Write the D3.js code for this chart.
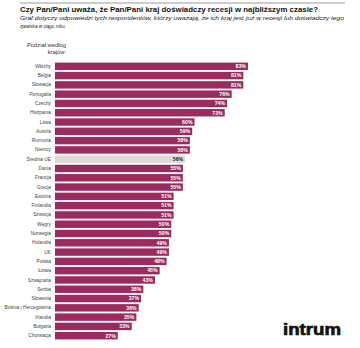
<!DOCTYPE html>
<html><head><meta charset="utf-8">
<script src="https://cdn.jsdelivr.net/npm/d3@7"></script>
<style>
html,body{margin:0;padding:0;background:#fff;}
svg{display:block;}
text{font-family:"Liberation Sans",Arial,sans-serif;}
</style></head>
<body>
<svg id="chart" width="360" height="348"></svg>
<script>
const countries = ["Włochy","Belgia","Słowacja","Portugalia","Czechy","Hiszpania","Litwa","Austria","Rumunia","Niemcy","Średnia UE","Dania","Francja","Grecja","Estonia","Finlandia","Szwecja","Węgry","Norwegia","Holandia","UK","Polska","Łotwa","Szwajcaria","Serbia","Słowenia","Bośnia i Hercegowina","Irlandia","Bułgaria","Chorwacja"];
const values = [83,81,81,76,74,73,60,59,58,58,56,55,55,55,51,51,51,50,50,49,49,48,45,43,38,37,36,35,33,27];
const highlight = ["Średnia UE"];
const titleText = "Czy Pan/Pani uważa, że Pan/Pani kraj doświadczy recesji w najbliższym czasie?";
const subtitleLines = ["Graf dotyczy odpowiedzi tych respondentów, którzy uważają, że ich kraj jest już w recesji lub doświadczy tego","zjawiska w ciągu roku."];
const axisTitle = ["Podział według","krajów:"];

const svg = d3.select("#chart");
const data = countries.map((c,i)=>({c, v:values[i]}));

const x = d3.scaleLinear().domain([0,100]).range([55, 55+232.5]);
const y = d3.scaleBand().domain(countries).range([61.65, 340.35]).paddingInner(0.2).paddingOuter(0.1);

// top rule
svg.append("line").attr("x1",20).attr("x2",345).attr("y1",3).attr("y2",3)
  .attr("stroke","#9a9a9a").attr("stroke-width",1);

svg.append("text").attr("x",20).attr("y",11.5).text(titleText)
  .attr("font-size",7.8).attr("font-weight","bold").attr("fill","#111")
  .attr("textLength",298).attr("lengthAdjust","spacingAndGlyphs");

svg.selectAll("text.sub").data(subtitleLines).join("text").attr("class","sub")
  .attr("x",20).attr("y",(d,i)=>20+i*7.5).text(d=>d)
  .attr("font-size",6.2).attr("font-style","italic").attr("fill","#222")
  .attr("textLength",(d,i)=>i===0?324:46).attr("lengthAdjust","spacingAndGlyphs");

svg.selectAll("text.axt").data(axisTitle).join("text").attr("class","axt")
  .attr("x",66).attr("y",(d,i)=>47+i*6.5).text(d=>d)
  .attr("text-anchor","end").attr("font-size",5.8).attr("fill","#333");

// bars
svg.selectAll("rect.bar").data(data).join("rect").attr("class","bar")
  .attr("x",x(0)).attr("y",d=>y(d.c))
  .attr("width",d=>x(d.v)-x(0)).attr("height",y.bandwidth())
  .attr("fill",d=>highlight.includes(d.c)?"#dedbd7":"#9b2b5f");

// axis labels
const yAxis = d3.axisLeft(y).tickSize(0).tickPadding(4);
const g = svg.append("g").attr("transform",`translate(${x(0)},0)`).call(yAxis);
g.select(".domain").remove();
g.selectAll("text").attr("font-size",4.8).attr("fill","#444")
  .attr("font-family","'Liberation Sans',Arial,sans-serif");

// value labels
svg.selectAll("text.val").data(data).join("text").attr("class","val")
  .attr("x",d=>x(d.v)-2).attr("y",d=>y(d.c)+y.bandwidth()/2)
  .attr("dy","0.35em").attr("text-anchor","end")
  .attr("font-size",5.2).attr("font-weight","bold")
  .attr("fill",d=>highlight.includes(d.c)?"#222":"#fff")
  .text(d=>d.v+"%");

// logo
svg.append("text").attr("x",283).attr("y",335).text("intrum")
  .attr("font-size",17).attr("font-weight","bold").attr("fill","#111")
  .attr("stroke","#111").attr("stroke-width",0.7)
  .attr("textLength",58).attr("lengthAdjust","spacingAndGlyphs");
</script>
</body></html>
